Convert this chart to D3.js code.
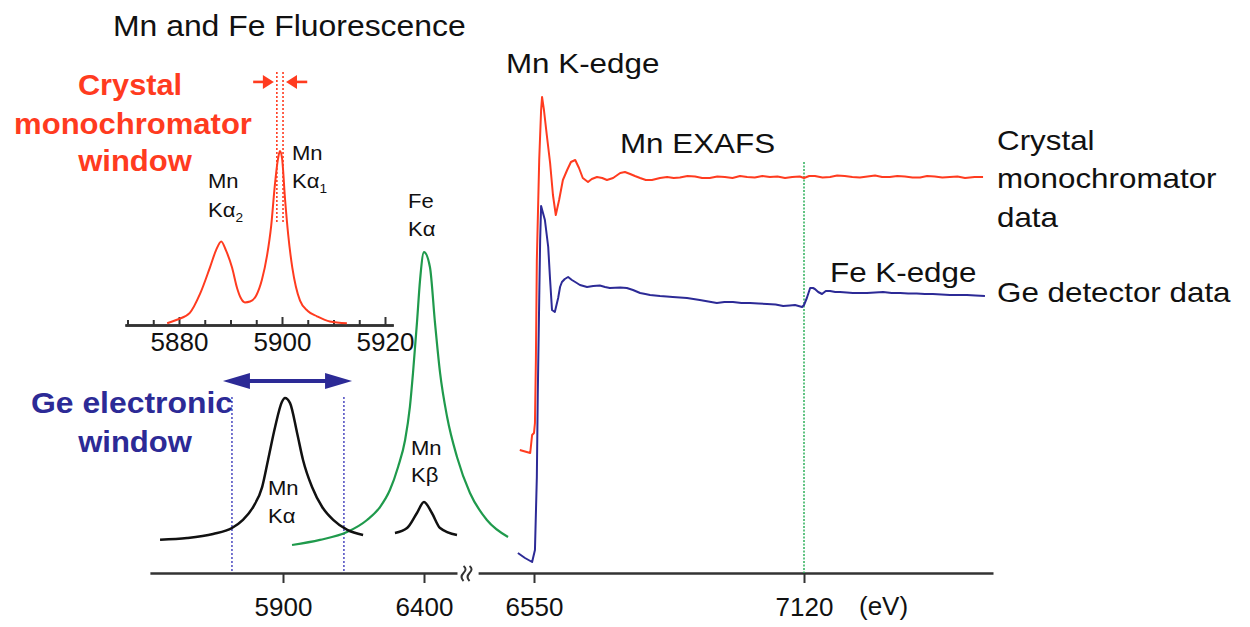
<!DOCTYPE html>
<html><head><meta charset="utf-8">
<script src="https://cdn.jsdelivr.net/npm/d3@7"></script>
<style>body{margin:0;background:#fff}svg{display:block}</style>
</head><body>
<script>
// ---------- DATA ----------
// Inset: high-resolution Mn Kα fluorescence (eV, relative intensity)
const insetMnKa = [[5877.7,0.01],[5879.6,0.03],[5882.1,0.07],[5884.1,0.18],[5886.0,0.33],[5887.2,0.43],[5888.2,0.48],[5889.1,0.43],[5890.3,0.33],[5891.3,0.21],[5892.0,0.155],[5892.8,0.13],[5893.8,0.135],[5895.0,0.17],[5896.1,0.26],[5897.1,0.40],[5897.9,0.57],[5898.6,0.80],[5899.2,0.95],[5899.6,1.00],[5900.0,0.96],[5900.6,0.72],[5901.2,0.52],[5902.0,0.33],[5902.7,0.22],[5903.5,0.14],[5905.0,0.08],[5906.8,0.05],[5909.3,0.02],[5912.6,0.01]];
const insetMajorTicks = [5880, 5900, 5920];
const insetMinorTicks = [5870, 5875, 5885, 5890, 5895, 5905, 5910, 5915];
const insetAxisExtent = [5869.5, 5921.6];
const crystalWindow = [5899.0, 5900.2];

// Low-resolution Ge detector spectra (eV, relative intensity)
const geMnKa = [[5464,0.19],[5560,0.20],[5652,0.223],[5719,0.257],[5758,0.303],[5794,0.377],[5826,0.491],[5847,0.646],[5872,0.834],[5896,0.977],[5907,1.0],[5925,0.971],[5950,0.80],[5971,0.646],[6003,0.491],[6039,0.377],[6078,0.303],[6128,0.246],[6184,0.217]];
const geFeKa = [[5932,0.16],[6031,0.189],[6127,0.234],[6198,0.303],[6244,0.377],[6279,0.474],[6308,0.606],[6333,0.76],[6350,0.949],[6361,1.143],[6375,1.429],[6386,1.674],[6400,1.834],[6421,1.749],[6439,1.429],[6457,1.143],[6482,0.891],[6517,0.663],[6563,0.457],[6623,0.303],[6698,0.206]];
const geMnKb = [[6297,0.229],[6340,0.257],[6375,0.343],[6400,0.406],[6428,0.343],[6457,0.257],[6517,0.217]];
const geWindow = [5719, 6116];
const geArrow = [5687, 6145];
const leftTicks = [5900, 6400];
const leftAxisExtent = [5428, 6517];

// Absorption spectra (eV, normalized absorption + offset)
const crystalData = [[6520,1.23],[6542,1.20],[6546,1.38],[6550,1.40],[6552,1.50],[6554,2.13],[6556,3.13],[6561,4.13],[6565,4.63],[6567,4.76],[6571,4.63],[6577,4.38],[6584,4.10],[6590,3.78],[6596,3.58],[6603,3.73],[6611,3.93],[6620,4.03],[6628,4.11],[6637,4.13],[6645,4.05],[6653,3.95],[6664,3.91],[6672,3.94],[6683,3.96],[6694,3.95],[6704,3.93],[6717,3.95],[6732,4.00],[6742,4.01],[6753,3.99],[6763,3.97],[6774,3.95],[6786,3.93],[6799,3.93],[6816,3.95],[6831,3.96],[6845,3.95],[6858,3.955],[6874,3.97],[6890,3.965],[6905,3.95],[6921,3.95],[6937,3.965],[6953,3.96],[6969,3.95],[6985,3.97],[7000,3.96],[7016,3.955],[7032,3.97],[7048,3.96],[7064,3.965],[7080,3.95],[7095,3.96],[7111,3.965],[7120,3.95],[7131,3.97],[7143,3.97],[7159,3.955],[7175,3.96],[7190,3.975],[7206,3.97],[7222,3.96],[7238,3.955],[7254,3.965],[7270,3.975],[7285,3.96],[7301,3.96],[7317,3.97],[7333,3.965],[7349,3.955],[7365,3.955],[7380,3.97],[7396,3.965],[7412,3.955],[7428,3.96],[7444,3.965],[7460,3.95],[7480,3.96],[7498,3.96]];
const geData = [[6516,0.20],[6531,0.15],[6546,0.11],[6552,0.23],[6556,0.96],[6558,1.80],[6561,2.73],[6563,3.33],[6565,3.67],[6569,3.60],[6573,3.53],[6580,3.26],[6584,2.93],[6588,2.63],[6594,2.61],[6601,2.75],[6605,2.86],[6609,2.91],[6615,2.94],[6622,2.96],[6630,2.93],[6637,2.91],[6647,2.88],[6662,2.86],[6675,2.87],[6689,2.875],[6700,2.86],[6710,2.85],[6732,2.855],[6746,2.85],[6759,2.83],[6774,2.80],[6785,2.79],[6795,2.78],[6816,2.77],[6830,2.765],[6843,2.76],[6873,2.75],[6900,2.73],[6918,2.715],[6936,2.70],[6952,2.71],[6970,2.71],[6988,2.70],[7006,2.70],[7024,2.695],[7042,2.69],[7060,2.685],[7076,2.67],[7090,2.675],[7101,2.68],[7116,2.66],[7120,2.68],[7126,2.75],[7133,2.85],[7139,2.85],[7143,2.84],[7150,2.81],[7158,2.79],[7166,2.82],[7175,2.82],[7186,2.81],[7196,2.81],[7210,2.805],[7223,2.80],[7238,2.80],[7253,2.80],[7270,2.805],[7287,2.81],[7305,2.80],[7323,2.80],[7340,2.795],[7358,2.795],[7375,2.79],[7392,2.79],[7410,2.785],[7428,2.78],[7446,2.78],[7464,2.78],[7482,2.775],[7502,2.77]];
const rightTicks = [6550, 7120];
const rightAxisExtent = [6432, 7519];
const feEdge = 7120;

// ---------- DRAW ----------
const W = 1250, H = 627;
const RED = "#ff3b1f", BLUE = "#2c2a96", GREEN = "#1f9a4c", AXIS = "#333";
const FONT = "'Liberation Sans', Arial, Helvetica, sans-serif";
const svg = d3.select("body").append("svg").attr("width", W).attr("height", H);

const xInset = d3.scaleLinear().domain([5880, 5920]).range([179, 385]);
const yInset = d3.scaleLinear().domain([0, 1]).range([325, 151]);
const xLeft = d3.scaleLinear().domain([5900, 6400]).range([283, 424]);
const yLeft = d3.scaleLinear().domain([0, 1]).range([573, 398]);
const xRight = d3.scaleLinear().domain([6550, 7120]).range([534, 804]);
const yRight = d3.scaleLinear().domain([0, 5]).range([573, 73]);

function line(xs, ys) {
  return d3.line().x(d => xs(d[0])).y(d => ys(d[1])).curve(d3.curveMonotoneX);
}
function styleAxis(g, size) {
  g.attr("font-family", FONT).attr("font-size", size);
  g.select(".domain").attr("stroke", AXIS).attr("stroke-width", 2.5);
  g.selectAll(".tick line").attr("stroke", AXIS).attr("stroke-width", 2);
  g.selectAll(".tick text").attr("fill", "#111");
}

// Inset axis
const insetAxisScale = d3.scaleLinear().domain(insetAxisExtent).range(insetAxisExtent.map(xInset));
svg.append("g").attr("transform", `translate(0,${yInset(0)})`)
  .call(d3.axisBottom(insetAxisScale).tickValues(insetMinorTicks).tickSize(-5).tickSizeOuter(0).tickFormat(""))
  .call(g => styleAxis(g, 26));
svg.append("g").attr("transform", `translate(0,${yInset(0)})`)
  .call(d3.axisBottom(insetAxisScale).tickValues(insetMajorTicks).tickSize(-8).tickSizeOuter(0).tickPadding(8).tickFormat(d3.format("d")))
  .call(g => styleAxis(g, 26));

// Main axis (two segments)
const leftAxisScale = d3.scaleLinear().domain(leftAxisExtent).range(leftAxisExtent.map(xLeft));
const rightAxisScale = d3.scaleLinear().domain(rightAxisExtent).range(rightAxisExtent.map(xRight));
[[leftAxisScale, leftTicks], [rightAxisScale, rightTicks]].forEach(([sc, tv]) => {
  svg.append("g").attr("transform", `translate(0,${yLeft(0)})`)
    .call(d3.axisBottom(sc).tickValues(tv).tickSize(10).tickSizeOuter(0).tickPadding(15).tickFormat(d3.format("d")))
    .call(g => styleAxis(g, 26));
});
// axis break squiggles
const breakMid = (xLeft(leftAxisExtent[1]) + xRight(rightAxisExtent[0])) / 2;
[breakMid - 3, breakMid + 3].forEach(x0 => {
  const y0 = yLeft(0);
  svg.append("path")
    .attr("d", `M${x0-1},${y0-7} q4,3 0,7 q-4,4 0,8`)
    .attr("fill", "none").attr("stroke", AXIS).attr("stroke-width", 2);
});
svg.append("text").attr("x", 859).attr("y", 615).attr("font-family", FONT).attr("font-size", 26).attr("fill", "#111").text("(eV)");

// Crystal monochromator window (dotted red)
crystalWindow.forEach(e => {
  svg.append("line").attr("x1", xInset(e)).attr("x2", xInset(e))
    .attr("y1", yInset(1.454)).attr("y2", yInset(0.586))
    .attr("stroke", RED).attr("stroke-width", 1.6).attr("stroke-dasharray", "2,2");
});
// red arrows
function arrowHead(tipX, tipY, dir, len, half, color) {
  svg.append("path")
    .attr("d", `M${tipX},${tipY} L${tipX - dir*len},${tipY - half} L${tipX - dir*len},${tipY + half} Z`)
    .attr("fill", color);
}
const ay = yInset(1.397);
svg.append("line").attr("x1", xInset(5894.4)).attr("x2", xInset(crystalWindow[0]) - 6).attr("y1", ay).attr("y2", ay).attr("stroke", RED).attr("stroke-width", 2.6);
arrowHead(xInset(crystalWindow[0]) - 3, ay, 1, 11, 7, RED);
svg.append("line").attr("x1", xInset(5904.9)).attr("x2", xInset(crystalWindow[1]) + 6).attr("y1", ay).attr("y2", ay).attr("stroke", RED).attr("stroke-width", 2.6);
arrowHead(xInset(crystalWindow[1]) + 3, ay, -1, 11, 7, RED);

// Inset curve
svg.append("path").datum(insetMnKa).attr("d", line(xInset, yInset))
  .attr("fill", "none").attr("stroke", RED).attr("stroke-width", 2);

// Ge window dotted lines
geWindow.forEach(e => {
  svg.append("line").attr("x1", xLeft(e)).attr("x2", xLeft(e))
    .attr("y1", yLeft(1.006)).attr("y2", yLeft(0))
    .attr("stroke", "#4a48c0").attr("stroke-width", 1.5).attr("stroke-dasharray", "2,2");
});
// blue double arrow
const by = yLeft(1.097);
svg.append("line").attr("x1", xLeft(geArrow[0]) + 20).attr("x2", xLeft(geArrow[1]) - 20)
  .attr("y1", by).attr("y2", by).attr("stroke", BLUE).attr("stroke-width", 4);
arrowHead(xLeft(geArrow[0]), by, -1, 27, 8, BLUE);
arrowHead(xLeft(geArrow[1]), by, 1, 27, 8, BLUE);

// Ge-detector emission curves
svg.append("path").datum(geFeKa).attr("d", line(xLeft, yLeft))
  .attr("fill", "none").attr("stroke", GREEN).attr("stroke-width", 2.2);
svg.append("path").datum(geMnKa).attr("d", line(xLeft, yLeft))
  .attr("fill", "none").attr("stroke", "#111").attr("stroke-width", 2.5);
svg.append("path").datum(geMnKb).attr("d", line(xLeft, yLeft))
  .attr("fill", "none").attr("stroke", "#111").attr("stroke-width", 2.5);

// Fe edge dotted green line
svg.append("line").attr("x1", xRight(feEdge)).attr("x2", xRight(feEdge))
  .attr("y1", yRight(4.11)).attr("y2", yRight(0))
  .attr("stroke", "#2db05a").attr("stroke-width", 1.5).attr("stroke-dasharray", "2,1.5");

// Absorption spectra
svg.append("path").datum(geData).attr("d", d3.line().x(d => xRight(d[0])).y(d => yRight(d[1])))
  .attr("fill", "none").attr("stroke", BLUE).attr("stroke-width", 2).attr("stroke-linejoin", "round");
svg.append("path").datum(crystalData).attr("d", d3.line().x(d => xRight(d[0])).y(d => yRight(d[1])))
  .attr("fill", "none").attr("stroke", RED).attr("stroke-width", 2).attr("stroke-linejoin", "round");

// ---------- TEXT ----------
function label(x, y, str, o = {}) {
  const t = svg.append("text")
    .attr("transform", `translate(${x},${y}) scale(${o.sx || 1},1)`)
    .attr("font-family", FONT).attr("font-size", o.size || 28)
    .attr("font-weight", o.weight || "normal")
    .attr("fill", o.fill || "#111")
    .attr("text-anchor", o.anchor || "start");
  if (o.sub) {
    t.append("tspan").text(str);
    t.append("tspan").attr("font-size", (o.size || 28) * 0.62).attr("dy", 5).text(o.sub);
  } else t.text(str);
  return t;
}
label(113, 36, "Mn and Fe Fluorescence", {size: 29, sx: 1.1});
label(130, 95, "Crystal", {size: 29, weight: "bold", fill: RED, anchor: "middle", sx: 1.06});
label(133, 134, "monochromator", {size: 29, weight: "bold", fill: RED, anchor: "middle", sx: 1.07});
label(135, 171, "window", {size: 29, weight: "bold", fill: RED, anchor: "middle", sx: 1.07});
label(132, 413, "Ge electronic", {size: 29, weight: "bold", fill: BLUE, anchor: "middle", sx: 1.1});
label(135, 452, "window", {size: 29, weight: "bold", fill: BLUE, anchor: "middle", sx: 1.07});

const small = {size: 21, sx: 1.05};
label(208, 188, "Mn", small);
label(208, 217, "Kα", Object.assign({sub: "2"}, small));
label(292, 160, "Mn", small);
label(292, 188, "Kα", Object.assign({sub: "1"}, small));
label(408, 208, "Fe", small);
label(408, 236, "Kα", small);
label(268, 495, "Mn", small);
label(268, 523, "Kα", small);
label(411, 455, "Mn", small);
label(411, 482, "Kβ", small);

label(506, 73, "Mn K-edge", {size: 28, sx: 1.12});
label(620, 153, "Mn EXAFS", {size: 28, sx: 1.12});
label(830, 282, "Fe K-edge", {size: 28, sx: 1.12});
label(997, 150, "Crystal", {size: 28, sx: 1.12});
label(997, 188, "monochromator", {size: 28, sx: 1.12});
label(997, 227, "data", {size: 28, sx: 1.12});
label(997, 302, "Ge detector data", {size: 28, sx: 1.12});
</script>
</body></html>
